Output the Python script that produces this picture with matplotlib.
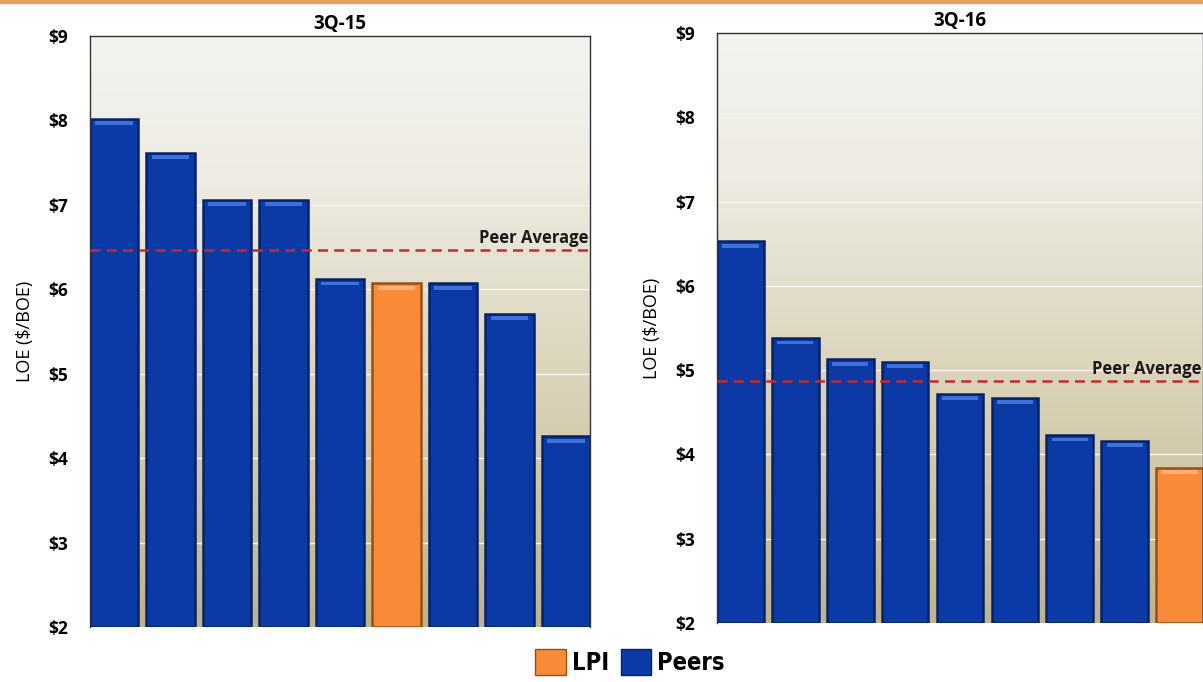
import numpy as np
import matplotlib
matplotlib.use("Agg")
import matplotlib.pyplot as plt
from matplotlib.patches import Patch
from matplotlib.lines import Line2D
from matplotlib.colors import LinearSegmentedColormap

plt.rcParams['font.family'] = ['Open Sans', 'DejaVu Sans']

# LOE per BOE by company, sorted high to low; True marks LPI
titles = ["3Q-15", "3Q-16"]
loe_3q15 = [8.02, 7.62, 7.06, 7.06, 6.12, 6.07, 6.07, 5.71, 4.26]
lpi_3q15 = [False, False, False, False, False, True, False, False, False]
avg_3q15 = 6.46
loe_3q16 = [6.53, 5.38, 5.13, 5.10, 4.72, 4.67, 4.23, 4.16, 3.84]
lpi_3q16 = [False, False, False, False, False, False, False, False, True]
avg_3q16 = 4.87
y_ticks = [2, 3, 4, 5, 6, 7, 8, 9]
y_tick_labels = ["$2", "$3", "$4", "$5", "$6", "$7", "$8", "$9"]

BLUE = "#0b3aa6"
BLUE_EDGE = "#06226a"
BLUE_TOP = "#3f72d8"
ORANGE = "#f98b38"
ORANGE_EDGE = "#9a4e16"
ORANGE_TOP = "#fbb07a"

W, H = 1203, 682
fig = plt.figure(figsize=(W / 100, H / 100), dpi=100)
fig.patch.set_facecolor("white")

bg_cmap = LinearSegmentedColormap.from_list(
    "panel_bg",
    [(0.0, "#f4f3f0"), (0.25, "#edebe2"), (0.55, "#dcd6bd"), (1.0, "#bfb488")])


def panel(rect, values, lpi_flags, avg, title):
    ax = fig.add_axes(rect)
    n = len(values)
    width = 0.85
    xlim = (-width / 2, n - 1 + width / 2)
    ax.set_xlim(*xlim)
    ax.set_ylim(2, 9)

    grad = np.linspace(0, 1, 256).reshape(-1, 1)
    ax.imshow(grad, cmap=bg_cmap, aspect="auto", origin="upper",
              extent=(xlim[0], xlim[1], 2, 9), zorder=0)

    for y in y_ticks[1:-1]:
        ax.axhline(y, color="#f6f4ec", lw=1.0, zorder=1)

    x = np.arange(n)
    for xi, v, is_lpi in zip(x, values, lpi_flags):
        face = ORANGE if is_lpi else BLUE
        edge = ORANGE_EDGE if is_lpi else BLUE_EDGE
        top = ORANGE_TOP if is_lpi else BLUE_TOP
        ax.bar(xi, v - 2, bottom=2, width=width, color=face,
               edgecolor=edge, linewidth=1.8, zorder=2)
        ax.bar(xi, 0.045, bottom=v - 0.075, width=width * 0.78,
               color=top, linewidth=0, zorder=3)

    ax.axhline(avg, color="#c8282c", lw=1.8, ls=(0, (4, 2.5)), zorder=4)
    ax.text(xlim[1] - 0.02, avg + 0.04, "Peer Average", ha="right",
            va="bottom", fontsize=12, fontweight="bold", color="#1a1a1a",
            zorder=5)

    ax.set_title(title, fontsize=13.5, fontweight="bold", pad=5)
    ax.set_yticks(y_ticks)
    ax.set_yticklabels(y_tick_labels, fontsize=12.5, fontweight="bold")
    ax.tick_params(axis="y", length=0, pad=16)
    ax.set_xticks([])
    ax.set_ylabel("LOE ($/BOE)", fontsize=13, labelpad=10)
    for side in ("left", "top", "right"):
        ax.spines[side].set_color("#333333")
        ax.spines[side].set_linewidth(1.0)
    ax.spines["bottom"].set_visible(False)
    return ax


panel([90 / W, 1 - 627 / H, 500 / W, 591 / H],
      loe_3q15, lpi_3q15, avg_3q15, titles[0])
panel([717 / W, 1 - 623 / H, 486 / W, 590 / H],
      loe_3q16, lpi_3q16, avg_3q16, titles[1])

# thin accent rule along the top edge
fig.add_artist(Line2D([0, 1], [1 - 1.5 / H, 1 - 1.5 / H], color="#e0a25c",
                      lw=3, transform=fig.transFigure))

handles = [Patch(facecolor=ORANGE, edgecolor=ORANGE_EDGE, label="LPI"),
           Patch(facecolor=BLUE, edgecolor=BLUE_EDGE, label="Peers")]
fig.legend(handles=handles, loc="center", bbox_to_anchor=(630 / W, 1 - 662 / H),
           ncol=2, frameon=False, handlelength=1.3, handleheight=1.3,
           handletextpad=0.25, columnspacing=0.5,
           prop={"family": "DejaVu Sans", "stretch": "condensed",
                 "weight": "bold", "size": 17})

fig.savefig("out.png", dpi=100)
